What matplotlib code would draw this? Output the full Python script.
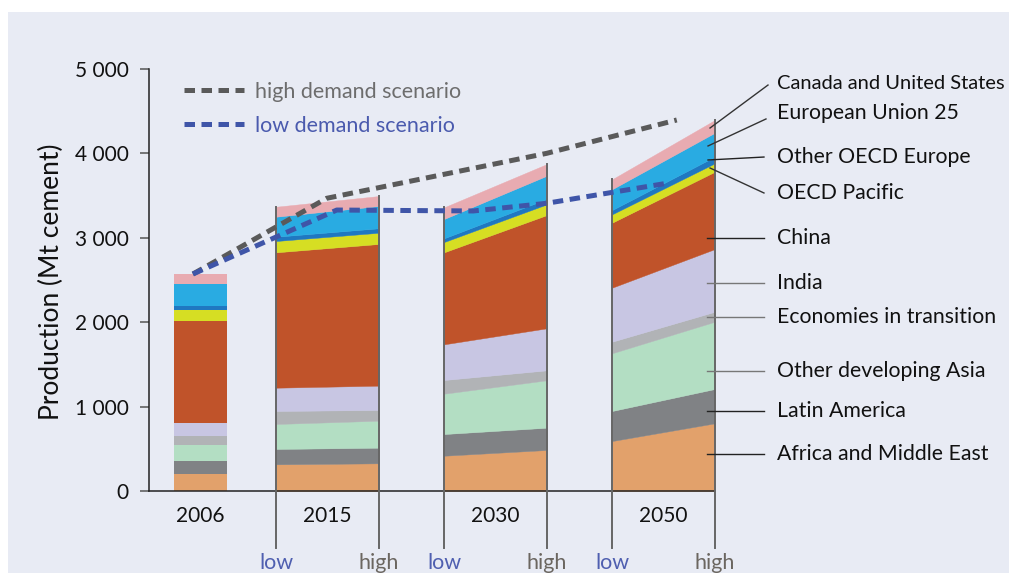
import matplotlib
matplotlib.use('Agg')
import matplotlib.pyplot as plt
from matplotlib.patches import Rectangle
import numpy as np

plt.rcParams['font.family'] = ['Lato', 'DejaVu Sans']

# ---------------- data ----------------
regions = ["Africa and Middle East", "Latin America", "Other developing Asia",
           "Economies in transition", "India", "China", "OECD Pacific",
           "Other OECD Europe", "European Union 25", "Canada and United States"]
colors = ["#E2A16B", "#808285", "#B3DEC3", "#B1B3B6", "#C8C6E3", "#C0532A",
          "#D6DE23", "#1F78C1", "#29ABE2", "#E8ABB1"]

years = ["2006", "2015", "2030", "2050"]
values_2006 = [200, 150, 190, 110, 160, 1205, 130, 50, 260, 120]
values_2015_low = [316, 182, 296, 154, 276, 1604, 134, 51, 237, 118]
values_2015_high = [328, 185, 320, 127, 288, 1679, 133, 53, 264, 118]
values_2030_low = [418, 257, 478, 162, 423, 1090, 122, 44, 229, 138]
values_2030_high = [486, 264, 562, 118, 498, 1342, 127, 63, 276, 138]
values_2050_low = [592, 356, 684, 137, 640, 770, 99, 51, 246, 118]
values_2050_high = [802, 407, 797, 118, 743, 916, 100, 78, 284, 151]

high_scenario = [2571, 3468, 4001, 4396]
low_scenario = [2571, 3329, 3318, 3409, 3646]

yticks = [0, 1000, 2000, 3000, 4000, 5000]

# ---------------- layout (positions) ----------------
group_x = [0.244, 1.0, 2.0, 3.0]
half_w = 0.306
bar_w_2006 = 0.315
high_x = [0.199, 0.995, 2.305, 3.079]
low_x = [0.199, 1.055, 1.868, 2.305, 3.019]

W, H = 1009, 573
fig = plt.figure(figsize=(W / 100, H / 100), dpi=100)
fig.patch.set_facecolor('white')
fig.patches.append(Rectangle((8 / W, 0), 1, (H - 12) / H, transform=fig.transFigure,
                             facecolor='#E8EBF4', edgecolor='none', zorder=-10))

ax = fig.add_axes([149 / W, (H - 491) / H, 565 / W, 422 / H])
ax.set_facecolor('none')
ax.set_xlim(-0.0625, 3.3006)
ax.set_ylim(0, 5000)

for s in ['top', 'right']:
    ax.spines[s].set_visible(False)
ax.spines['left'].set_color('#222222')
ax.spines['bottom'].set_color('#222222')
ax.spines['left'].set_linewidth(1.1)
ax.spines['bottom'].set_linewidth(1.1)
ax.set_xticks([])
ax.set_yticks(yticks)
ax.set_yticklabels([f"{v:,}".replace(',', ' ') for v in yticks])
ax.tick_params(axis='y', direction='out', length=6.5, width=1.1, color='#555555',
               labelsize=15, pad=8, labelcolor='#111111')

# 2006 bar
bottom = 0
for v, c in zip(values_2006, colors):
    ax.bar(group_x[0], v, bottom=bottom, width=bar_w_2006, color=c, linewidth=0)
    bottom += v

# scenario groups
groups = [(values_2015_low, values_2015_high),
          (values_2030_low, values_2030_high),
          (values_2050_low, values_2050_high)]
for gx, (lo, hi) in zip(group_x[1:], groups):
    xl, xr = gx - half_w, gx + half_w
    cl = np.concatenate([[0], np.cumsum(lo)])
    ch = np.concatenate([[0], np.cumsum(hi)])
    for i, c in enumerate(colors):
        ax.fill_between([xl, xr], [cl[i], ch[i]], [cl[i + 1], ch[i + 1]],
                        color=c, linewidth=0.3, edgecolor=c, zorder=2)
    ax.plot([xl, xl], [-675, cl[-1]], color='#666666', lw=1.4, clip_on=False, zorder=5)
    ax.plot([xr, xr], [-675, ch[-1]], color='#666666', lw=1.4, clip_on=False, zorder=5)
    ax.text(xl, -850, "low", ha='center', va='center', fontsize=15.5, color='#4F5FB0')
    ax.text(xr, -850, "high", ha='center', va='center', fontsize=15.5, color='#6B6660')

for gx, yr in zip(group_x, years):
    ax.text(gx, -295, yr, ha='center', va='center', fontsize=15, color='#111111')

# scenario lines
ax.plot(high_x, high_scenario, color='#5A5A5A', lw=3.6, dashes=(2.1, 1.3),
        dash_capstyle='butt', zorder=6, clip_on=False)
ax.plot(low_x, low_scenario, color='#3F55A8', lw=3.6, dashes=(2.1, 1.3),
        dash_capstyle='butt', zorder=6, clip_on=False)

# legend (manual)
def axx(px):
    return (px - 149) / 565

def axy(py):
    return (491 - py) / 422

for py, col, txt, tcol in [(90, '#5A5A5A', 'high demand scenario', '#6D6D6D'),
                           (124, '#3F55A8', 'low demand scenario', '#4A5AAE')]:
    ax.plot([axx(184), axx(244)], [axy(py), axy(py)], transform=ax.transAxes,
            color=col, lw=3.6, dashes=(2.1, 1.3), dash_capstyle='butt', clip_on=False)
    ax.text(axx(255), axy(py) - 0.005, txt, transform=ax.transAxes, ha='left', va='center',
            fontsize=15.5, color=tcol)

# right-hand labels
label_y = [444, 948, 1422, 2062, 2464, 3001, 3531, 3957, 4479, 4834]
label_size = [15.3] * 9 + [14.5]
leader_start = [(3.259, 444), (3.259, 948), (3.259, 1422), (3.259, 2062),
                (3.259, 2464), (3.259, 3001), (3.277, 3827), (3.265, 3922),
                (3.265, 4088), (3.277, 4301)]
leader_end = [(3.598, 444), (3.598, 948), (3.598, 1422), (3.598, 2062),
              (3.598, 2464), (3.598, 3001), (3.598, 3531), (3.598, 3957),
              (3.610, 4408), (3.622, 4810)]
leader_col = ['#222222', '#222222', '#777777', '#777777', '#777777', '#222222',
              '#333333', '#222222', '#333333', '#333333']
for name, ly, fs, s, e, lc in zip(regions, label_y, label_size, leader_start,
                                  leader_end, leader_col):
    ax.plot([s[0], e[0]], [s[1], e[1]], color=lc, lw=1.0, clip_on=False, zorder=7)
    ax.text(3.676, ly, name, ha='left', va='center', fontsize=fs, color='#111111',
            clip_on=False)

fig.text(51 / W, (H - 282) / H, "Production (Mt cement)", rotation=90,
         ha='center', va='center', fontsize=19, color='#111111')

fig.savefig('out.png', dpi=100, facecolor=fig.get_facecolor())
